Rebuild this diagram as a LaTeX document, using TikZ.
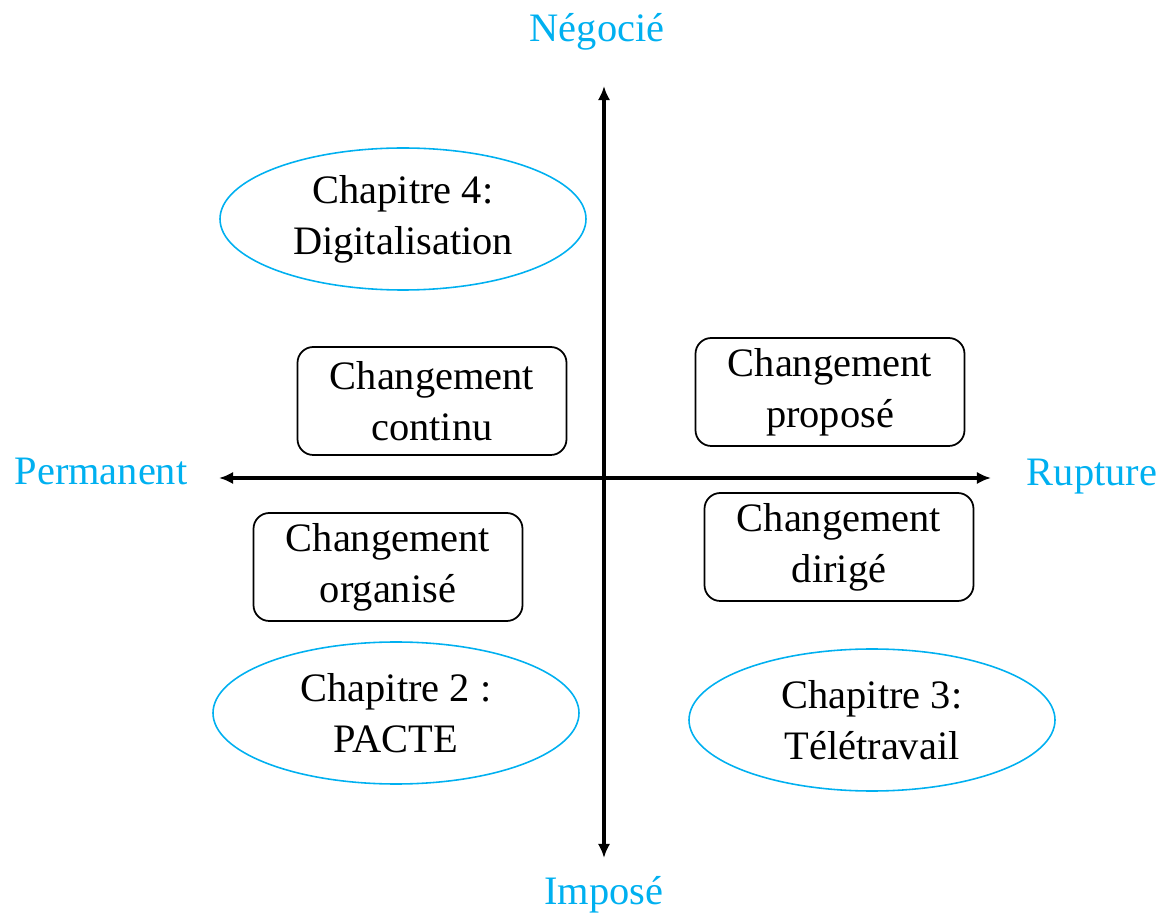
\documentclass[tikz,border=0pt]{standalone}
\usepackage{fontspec}
\setmainfont{Liberation Serif}
\usepackage{tikz}
\usetikzlibrary{arrows, arrows.meta, shapes.geometric}
\definecolor{axiscol}{RGB}{0,176,240}

\begin{document}
\begin{tikzpicture}[x=0.02cm,y=-0.02cm,>={Latex[length=8pt,width=7pt]},font=\fontsize{23}{29}\selectfont,
	axe/.style={line width=1.8pt},
	boite/.style={draw,rounded corners=9pt,line width=1pt,minimum width=269*0.02cm,minimum height=108*0.02cm,align=center},
	chap/.style={draw=axiscol,ellipse,line width=0.9pt,minimum width=366*0.02cm,minimum height=142*0.02cm,align=center},
	pole/.style={text=axiscol}]
	\useasboundingbox (0,0) rectangle (1164,915);
	% axes
	\coordinate (N) at (604,86);
	\coordinate (S) at (604,858);
	\coordinate (W) at (219,478);
	\coordinate (E) at (991,478);
	\draw[axe,<->] (N) -- (S);
	\draw[axe,<->] (W) -- (E);
	\node[pole] (neg) at (597,32) {Négocié};
	\node[pole] (imp) at (604,895) {Imposé};
	\node[pole] (perm) at (101,471) {Permanent};
	\node[pole] (rupt) at (1092,477) {Rupture};
	% chapitres
	\node[chap] (ch4) at (403,219) {Chapitre 4:\\Digitalisation};
	\node[chap] (ch2) at (396,713) {Chapitre 2 :\\PACTE};
	\node[chap] (ch3) at (872,720) {Chapitre 3:\\Télétravail};
	% changements
	\node[boite] (cont) at (432,401) {Changement\\continu};
	\node[boite] (prop) at (830,392) {Changement\\proposé};
	\node[boite] (org) at (388,567) {Changement\\organisé};
	\node[boite] (dir) at (839,547) {Changement\\dirigé};
\end{tikzpicture}
\end{document}
